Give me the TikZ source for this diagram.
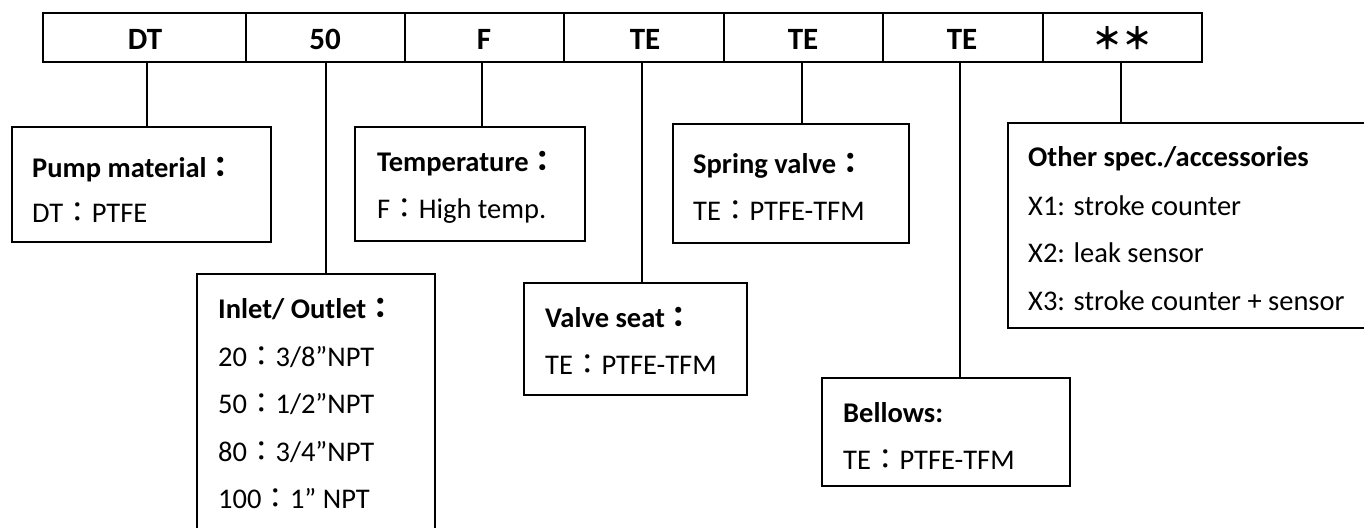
\documentclass[tikz,border=0pt]{standalone}
\usepackage{fontspec}
\setmainfont{Carlito}
\newfontfamily\cjk{Noto Sans CJK TC}
\newcommand\fc{{\cjk ：}}
\begin{document}
\begin{tikzpicture}[x=1pt,y=-1pt,
  txt/.style={anchor=base west,inner sep=0pt,font=\fontsize{28.5}{34}\selectfont},
  btxt/.style={txt,font=\fontsize{28.5}{34}\selectfont\bfseries},
  cell/.style={draw,line width=1.6pt,inner sep=0pt,minimum height=49pt},
  ctxt/.style={anchor=base,inner sep=0pt,font=\fontsize{31}{36}\selectfont\bfseries},
  infobox/.style={draw,line width=1.5pt,inner sep=0pt,rectangle},
  link/.style={line width=1.2pt}]
\useasboundingbox (0,0) rectangle (1364,527);
% top code bar
\node[cell,minimum width=203pt] (c1) at (144.5,37.5) {};
\node[cell,minimum width=159pt] (c2) at (325.5,37.5) {};
\node[cell,minimum width=159pt] (c3) at (484.5,37.5) {};
\node[cell,minimum width=160pt] (c4) at (644,37.5) {};
\node[cell,minimum width=159pt] (c5) at (803.5,37.5) {};
\node[cell,minimum width=160pt] (c6) at (963,37.5) {};
\node[cell,minimum width=159pt] (c7) at (1122.5,37.5) {};
\node[ctxt] (t1) at (145,50) {DT};
\node[ctxt] (t2) at (325,50) {50};
\node[ctxt] (t3) at (484,50) {F};
\node[ctxt] (t4) at (645,50) {TE};
\node[ctxt] (t5) at (803,50) {TE};
\node[ctxt] (t6) at (962,50) {TE};
\node[anchor=base,inner sep=0pt,font=\fontsize{30}{36}\selectfont\cjk\bfseries] (t7) at (1122,50) {＊＊};
% boxes
\node[infobox,minimum width=259pt,minimum height=115pt] (b1) at (141.5,184.5) {};
\node[infobox,minimum width=230pt,minimum height=114pt] (b3) at (470,184) {};
\node[infobox,minimum width=238pt,minimum height=290pt] (b2) at (316,419) {};
\node[infobox,minimum width=223pt,minimum height=112pt] (b4) at (635.5,339) {};
\node[infobox,minimum width=236pt,minimum height=119pt] (b5) at (791,183.5) {};
\node[infobox,minimum width=248pt,minimum height=108pt] (b6) at (946,432) {};
\node[infobox,minimum width=420pt,minimum height=205pt] (b7) at (1218,225.5) {};
% connectors
\draw[link] (147,62) coordinate (k1) -- (k1 |- b1.north);
\draw[link] (326,62) coordinate (k2) -- (k2 |- b2.north);
\draw[link] (482,62) coordinate (k3) -- (k3 |- b3.north);
\draw[link] (642,62) coordinate (k4) -- (k4 |- b4.north);
\draw[link] (802,62) coordinate (k5) -- (k5 |- b5.north);
\draw[link] (960,62) coordinate (k6) -- (k6 |- b6.north);
\draw[link] (1121,62) coordinate (k7) -- (k7 |- b7.north);
% texts
\node[btxt] (p1) at (32,177) {Pump material\fc};
\node[txt] (p2) at (32,222) {DT\fc PTFE};
\node[btxt] (q1) at (377,171) {Temperature\fc};
\node[txt] (q2) at (377,218) {F\fc High temp.};
\node[btxt] (i1) at (218,318) {Inlet/ Outlet\fc};
\node[txt] (i2) at (218,366) {20\fc 3/8”NPT};
\node[txt] (i3) at (218,413) {50\fc 1/2”NPT};
\node[txt] (i4) at (218,461) {80\fc 3/4”NPT};
\node[txt] (i5) at (218,508) {100\fc 1” NPT};
\node[btxt] (v1) at (545,327) {Valve seat\fc};
\node[txt] (v2) at (545,374) {TE\fc PTFE-TFM};
\node[btxt] (s1) at (693,173) {Spring valve\fc};
\node[txt] (s2) at (693,220) {TE\fc PTFE-TFM};
\node[btxt] (w1) at (843,422) {Bellows:};
\node[txt] (w2) at (843,469) {TE\fc PTFE-TFM};
\node[btxt] (o1) at (1028,166) {Other spec./accessories};
\node[txt] (o2) at (1028,215) {X1: stroke counter};
\node[txt] (o3) at (1028,262) {X2: leak sensor};
\node[txt] (o4) at (1028,310) {X3: stroke counter + sensor};
\end{tikzpicture}
\end{document}
